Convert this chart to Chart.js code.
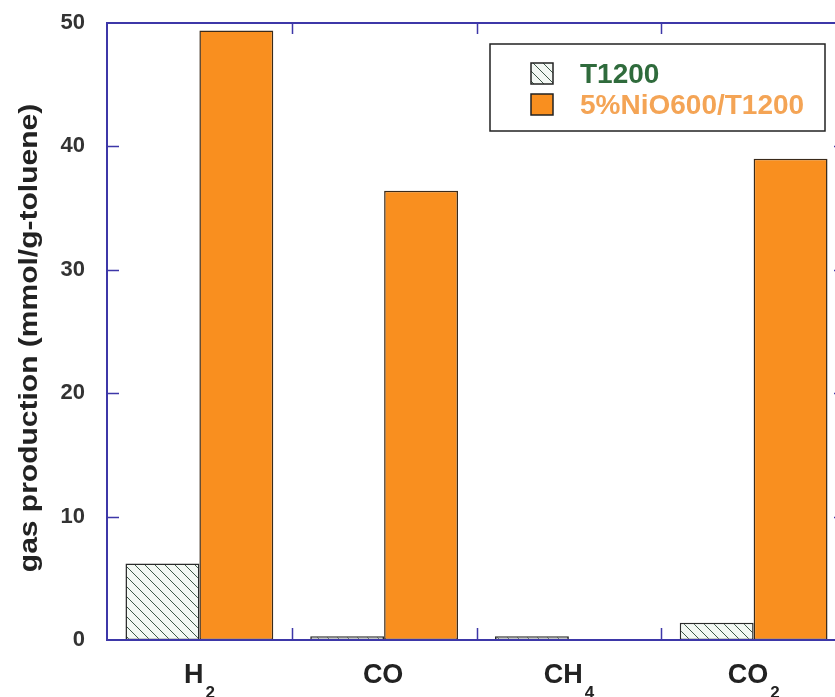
<!DOCTYPE html>
<html>
<head>
<meta charset="utf-8">
<script src="https://cdn.jsdelivr.net/npm/chart.js@4.4.1/dist/chart.umd.min.js"></script>
<style>
    html, body { margin: 0; padding: 0; background: #fff; overflow: hidden; }
    canvas { display: block; }
</style>
</head>
<body>
<canvas id="gasChart" width="870" height="697"></canvas>
<script>
// ========== DATOS ==========
const gases = ['H2', 'CO', 'CH4', 'CO2'];
const serieNombres = ['T1200', '5%NiO600/T1200'];
const valoresT1200 = [6.2, 0.3, 0.3, 1.4];
const valoresNiO = [49.4, 36.4, 0, 39.0];
const ticksY = [0, 10, 20, 30, 40, 50];
const tituloY = 'gas production (mmol/g-toluene)';

const colorMarco = '#3d37a8';
const colorNaranja = '#f98f1f';
const colorTexto = '#333333';
const fuente = '"Liberation Sans", Arial, sans-serif';

// Patrón rayado para la serie T1200
function crearRayado() {
    const n = 10;
    const c = document.createElement('canvas');
    c.width = n;
    c.height = n;
    const g = c.getContext('2d');
    g.fillStyle = '#f3f8f4';
    g.fillRect(0, 0, n, n);
    g.strokeStyle = '#2b4536';
    g.lineWidth = 0.9;
    g.beginPath();
    g.moveTo(-1, -1); g.lineTo(n + 1, n + 1);
    g.moveTo(-1, n - 1); g.lineTo(1, n + 1);
    g.moveTo(n - 1, -1); g.lineTo(n + 1, 1);
    g.stroke();
    return g.createPattern(c, 'repeat');
}
const rayado = crearRayado();

// Marco azul con marcas hacia adentro
const marcoPlugin = {
    id: 'marco',
    afterDatasetsDraw(chart) {
        const { ctx, chartArea: a, scales } = chart;
        ctx.save();
        ctx.strokeStyle = colorMarco;
        ctx.lineWidth = 2;
        ctx.strokeRect(a.left, a.top, a.right - a.left, a.bottom - a.top);

        ctx.lineWidth = 1.5;
        ctx.beginPath();
        ticksY.slice(1, -1).forEach(v => {
            const y = Math.round(scales.y.getPixelForValue(v)) + 0.5;
            ctx.moveTo(a.left, y); ctx.lineTo(a.left + 12, y);
            ctx.moveTo(a.right, y); ctx.lineTo(a.right - 12, y);
        });
        for (let i = 0; i < gases.length - 1; i++) {
            const x = Math.round((scales.x.getPixelForValue(i) + scales.x.getPixelForValue(i + 1)) / 2) + 0.5;
            ctx.moveTo(x, a.bottom); ctx.lineTo(x, a.bottom - 12);
            ctx.moveTo(x, a.top); ctx.lineTo(x, a.top + 11);
        }
        ctx.stroke();
        ctx.restore();
    }
};

// Etiquetas del eje X con subíndices
const etiquetasPlugin = {
    id: 'etiquetasX',
    afterDraw(chart) {
        const { ctx, scales } = chart;
        ctx.save();
        ctx.fillStyle = '#222';
        ctx.textBaseline = 'alphabetic';
        gases.forEach((gas, i) => {
            const partes = gas.match(/[A-Za-z]+|\d+/g);
            const medidas = partes.map(p => {
                ctx.font = /\d/.test(p) ? 'bold 17px ' + fuente : 'bold 27px ' + fuente;
                return ctx.measureText(p).width + (/\d/.test(p) ? 0 : 2);
            });
            const total = medidas.reduce((s, w) => s + w, 0);
            let x = scales.x.getPixelForValue(i) - total / 2;
            partes.forEach((p, k) => {
                const sub = /\d/.test(p);
                ctx.font = sub ? 'bold 17px ' + fuente : 'bold 27px ' + fuente;
                ctx.fillText(p, x, sub ? 698 : 683);
                x += medidas[k];
            });
        });
        ctx.restore();
    }
};

// Título del eje Y
const tituloPlugin = {
    id: 'tituloY',
    afterDraw(chart) {
        const { ctx } = chart;
        ctx.save();
        ctx.translate(30, 338);
        ctx.rotate(-Math.PI / 2);
        ctx.scale(1.2, 1);
        ctx.font = 'bold 25px ' + fuente;
        ctx.fillStyle = '#222';
        ctx.textAlign = 'center';
        ctx.textBaseline = 'middle';
        ctx.fillText(tituloY, 0, 0);
        ctx.restore();
    }
};

// Leyenda dentro del área del gráfico
const leyendaPlugin = {
    id: 'leyendaCaja',
    afterDraw(chart) {
        const { ctx } = chart;
        const colores = ['#2f6b3c', '#f4a455'];
        ctx.save();
        ctx.fillStyle = '#fff';
        ctx.fillRect(490, 44, 335, 87);
        ctx.strokeStyle = '#222';
        ctx.lineWidth = 1.5;
        ctx.strokeRect(490, 44, 335, 87);
        chart.data.datasets.forEach((ds, i) => {
            const y = 63 + i * 31;
            ctx.fillStyle = ds.backgroundColor;
            ctx.fillRect(531, y, 22, 21);
            ctx.strokeStyle = '#222';
            ctx.lineWidth = 1.5;
            ctx.strokeRect(531, y, 22, 21);
            ctx.font = 'bold 28px ' + fuente;
            ctx.fillStyle = colores[i];
            ctx.textBaseline = 'alphabetic';
            ctx.fillText(ds.label, 580, y + 20);
        });
        ctx.restore();
    }
};

const ctx = document.getElementById('gasChart').getContext('2d');
const gasChart = new Chart(ctx, {
    type: 'bar',
    data: {
        labels: gases,
        datasets: [{
            label: serieNombres[0],
            data: valoresT1200,
            backgroundColor: rayado,
            borderColor: '#2a2a2a',
            borderWidth: 1.5,
            borderSkipped: false
        }, {
            label: serieNombres[1],
            data: valoresNiO,
            backgroundColor: colorNaranja,
            borderColor: '#3a2a1a',
            borderWidth: 1.5,
            borderSkipped: false
        }]
    },
    options: {
        responsive: false,
        animation: false,
        devicePixelRatio: 1,
        categoryPercentage: 0.8,
        barPercentage: 1.0,
        layout: {
            padding: { left: 0, top: 23, right: 24, bottom: 0 }
        },
        plugins: {
            legend: { display: false },
            tooltip: { enabled: false }
        },
        scales: {
            x: {
                grid: { display: false },
                border: { display: false },
                ticks: { display: false },
                afterFit: function(scale) { scale.height = 57; }
            },
            y: {
                min: 0,
                max: 50,
                grid: { display: false, drawTicks: false },
                border: { display: false },
                ticks: {
                    stepSize: 10,
                    padding: 22,
                    color: colorTexto,
                    font: { family: fuente, size: 22, weight: 'bold' }
                },
                afterFit: function(scale) {
                    scale.width = 107;
                    scale.paddingTop = 0;
                    scale.paddingBottom = 0;
                }
            }
        }
    },
    plugins: [marcoPlugin, etiquetasPlugin, tituloPlugin, leyendaPlugin]
});
</script>
</body>
</html>
